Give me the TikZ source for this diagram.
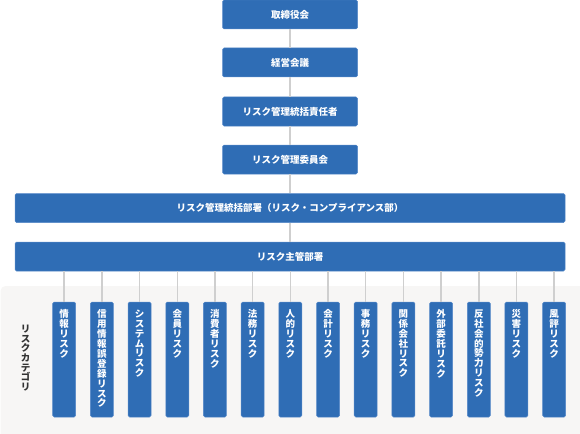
\documentclass[tikz,border=0pt]{standalone}
\usepackage{fontspec}
\setmainfont{Noto Sans CJK JP}
\definecolor{boxblue}{HTML}{2F6DB5}
\definecolor{boxedge}{HTML}{5588C8}
\definecolor{connc}{HTML}{CFCFCF}
\definecolor{bgc}{HTML}{F7F6F5}
\definecolor{labc}{HTML}{333333}
\begin{document}
\begin{tikzpicture}[x=1pt,y=-1pt,
  box/.style={draw=boxedge, fill=boxblue, rounded corners=1.5pt, line width=0.5pt,
    text=white, font=\fontsize{9.5}{11}\selectfont\bfseries, inner sep=0pt},
  topbox/.style={box, minimum width=135pt, minimum height=29pt},
  widebox/.style={box, minimum width=550pt, minimum height=29pt},
  vbox/.style={box, minimum width=23pt, minimum height=115pt},
  vtext/.style={text=white, font=\fontsize{9.5}{9.9}\selectfont\bfseries, inner sep=0pt, align=center, anchor=north},
  conn/.style={draw=connc, line width=1.5pt}]
\useasboundingbox (0,0) rectangle (580,433);
\fill[bgc, rounded corners=5pt] (0.5,286) rectangle (600,450);

\node[topbox] (b1) at (290,14.5) {取締役会};
\node[topbox] (b2) at (290,62.5) {経営会議};
\node[topbox] (b3) at (290,111.5) {リスク管理統括責任者};
\node[topbox] (b4) at (290,159.5) {リスク管理委員会};
\node[widebox] (b5) at (290,208) {リスク管理統括部署（リスク・コンプライアンス部）};
\node[widebox] (b6) at (290,256.5) {リスク主管部署};

\draw[conn] (b1) -- (b2);
\draw[conn] (b2) -- (b3);
\draw[conn] (b3) -- (b4);
\draw[conn] (b4) -- (b5);
\draw[conn] (b5) -- (b6);

\foreach \i/\t in {0/{情\\報\\リ\\ス\\ク},
  1/{信\\用\\情\\報\\誤\\登\\録\\リ\\ス\\ク},
  2/{シ\\ス\\テ\\ム\\リ\\ス\\ク},
  3/{会\\員\\リ\\ス\\ク},
  4/{消\\費\\者\\リ\\ス\\ク},
  5/{法\\務\\リ\\ス\\ク},
  6/{人\\的\\リ\\ス\\ク},
  7/{会\\計\\リ\\ス\\ク},
  8/{事\\務\\リ\\ス\\ク},
  9/{関\\係\\会\\社\\リ\\ス\\ク},
  10/{外\\部\\委\\託\\リ\\ス\\ク},
  11/{反\\社\\会\\的\\勢\\力\\リ\\ス\\ク},
  12/{災\\害\\リ\\ス\\ク},
  13/{風\\評\\リ\\ス\\ク}} {
  \pgfmathsetmacro{\cx}{64.2+37.69*\i}
  \node[vbox] (v\i) at (\cx,359.5) {};
  \node[vtext] (t\i) at (\cx,309.5) {\t};
  \draw[conn] (b6.south -| v\i.north) -- (v\i.north);
}

\node[text=labc, font=\fontsize{9.5}{9.6}\selectfont\bfseries, inner sep=0pt, align=center] (cat) at (25.5,358)
  {リ\\ス\\ク\\カ\\テ\\ゴ\\リ};
\end{tikzpicture}
\end{document}
